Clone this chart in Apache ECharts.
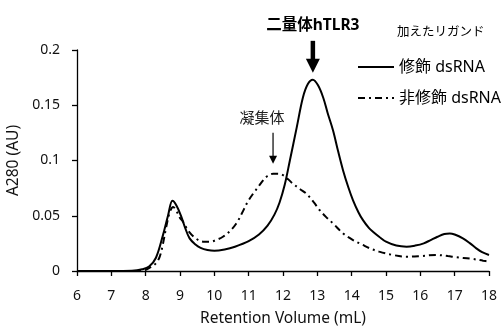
<!DOCTYPE html>
<html><head><meta charset="utf-8">
<script src="https://cdn.jsdelivr.net/npm/echarts@6/dist/echarts.min.js"></script>
<style>html,body{margin:0;padding:0;background:#fff}#c{width:501px;height:327px}</style>
</head><body><div id="c"></div>
<script>
const xTicks = [6,7,8,9,10,11,12,13,14,15,16,17,18];
const yTicks = [0,0.05,0.1,0.15,0.2];
const seriesNames = ['修飾 dsRNA','非修飾 dsRNA'];
const modX = [6,7,7.6,7.9,8.1,8.3,8.5,8.65,8.78,8.9,9.04,9.15,9.28,9.45,9.6,9.8,10.0,10.3,10.6,11.0,11.3,11.55,11.75,11.9,12.05,12.2,12.4,12.58,12.72,12.87,13.02,13.17,13.3,13.46,13.6,13.75,13.9,14.04,14.2,14.33,14.5,14.62,14.8,15.0,15.3,15.6,15.85,16.1,16.3,16.5,16.7,16.86,17.0,17.24,17.45,17.63,17.8,18.0];
const modY = [0,0,0.0002,0.0015,0.004,0.012,0.032,0.05,0.0635,0.059,0.049,0.039,0.0295,0.024,0.021,0.019,0.0183,0.0195,0.022,0.027,0.033,0.041,0.051,0.062,0.078,0.100,0.130,0.157,0.169,0.173,0.168,0.157,0.143,0.127,0.109,0.091,0.076,0.064,0.053,0.046,0.039,0.0355,0.031,0.0265,0.023,0.022,0.023,0.025,0.028,0.031,0.0335,0.034,0.033,0.0295,0.025,0.0205,0.017,0.0145];
const unmodX = [6,7,7.9,8.12,8.3,8.41,8.5,8.6,8.7,8.8,8.9,9.0,9.09,9.25,9.48,9.7,9.87,10.05,10.25,10.45,10.64,10.8,10.98,11.13,11.3,11.42,11.55,11.71,11.85,12.0,12.15,12.29,12.5,12.68,12.9,13.07,13.25,13.46,13.75,14.04,14.3,14.53,14.8,15.2,15.6,16.0,16.47,16.8,17.05,17.5,17.83,18.0];
const unmodY = [0,0,0,0.003,0.007,0.013,0.024,0.04,0.053,0.058,0.054,0.048,0.0445,0.036,0.029,0.0265,0.0265,0.028,0.031,0.036,0.043,0.052,0.063,0.07,0.077,0.082,0.086,0.088,0.088,0.0867,0.083,0.079,0.074,0.070,0.062,0.055,0.049,0.043,0.034,0.028,0.024,0.0205,0.0175,0.0145,0.013,0.0135,0.0145,0.0135,0.0124,0.011,0.0093,0.0085];
const dimerLabel = '二量体hTLR3';
const aggLabel = '凝集体';
const legendTitle = '加えたリガンド';
const dimerPeak = [12.87, 0.173];
const aggPeak = [11.71, 0.088];

const FONT = '"Noto Sans", "Noto Sans CJK JP", sans-serif';
const chart = echarts.init(document.getElementById('c'), null, {renderer:'canvas'});
const zip = (a,b)=>a.map((v,i)=>[v,b[i]]);
const axisCommon = {
  axisLine:{show:true,lineStyle:{color:'#000',width:1.3}},
  axisTick:{show:true,inside:false,length:5,lineStyle:{color:'#000',width:1.3}},
  splitLine:{show:false},
  axisLabel:{color:'#111',fontSize:14,fontFamily:FONT},
  nameTextStyle:{color:'#111',fontSize:15.5,fontFamily:FONT}
};
chart.setOption({
  animation:false,
  backgroundColor:'#fff',
  grid:{left:77,right:12,top:50,bottom:56,containLabel:false,outerBoundsMode:'none'},
  xAxis:Object.assign({type:'value',min:xTicks[0],max:xTicks[xTicks.length-1],interval:1,
    name:'Retention Volume (mL)',nameLocation:'middle',nameGap:40},axisCommon,
    {axisLabel:Object.assign({},axisCommon.axisLabel,{margin:18})}),
  yAxis:Object.assign({type:'value',min:yTicks[0],max:yTicks[yTicks.length-1],interval:0.05,
    name:'A280 (AU)',nameLocation:'middle',nameGap:44},axisCommon,
    {axisLabel:Object.assign({},axisCommon.axisLabel,{margin:17,formatter:v=>String(+v.toFixed(2))})}),
  legend:{show:true,orient:'vertical',left:357,top:59,padding:0,itemWidth:36,itemHeight:18,itemGap:15,
    itemStyle:{opacity:0},
    textStyle:{color:'#000',fontSize:16,fontFamily:FONT},data:seriesNames},
  series:[
    {name:seriesNames[0],type:'line',data:zip(modX,modY),smooth:0.35,symbol:'none',
     lineStyle:{color:'#000',width:2,type:'solid'},itemStyle:{color:'#000'},z:3},
    {name:seriesNames[1],type:'line',data:zip(unmodX,unmodY),smooth:0.35,symbol:'none',
     lineStyle:{color:'#000',width:2,type:[7,4,2,4]},itemStyle:{color:'#000'},z:2}
  ]
});
function px(p){return chart.convertToPixel({gridIndex:0},p);}
const d = px(dimerPeak), a = px(aggPeak);
const dx = d[0], dTip = d[1]-7;
const ax = a[0], aTip = a[1]-10;
chart.setOption({graphic:[
  {type:'text',left:397,top:26,style:{text:legendTitle,fill:'#000',fontSize:12.5,fontFamily:FONT}},
  {type:'text',x:dx,y:dTip-47,style:{text:dimerLabel,fill:'#000',fontSize:15.5,fontWeight:'bold',fontFamily:FONT,align:'center',verticalAlign:'middle'}},
  {type:'line',shape:{x1:dx,y1:dTip-32,x2:dx,y2:dTip-12},style:{stroke:'#000',lineWidth:4.5}},
  {type:'polygon',shape:{points:[[dx-7,dTip-14],[dx+7,dTip-14],[dx,dTip]]},style:{fill:'#000'}},
  {type:'text',x:ax-11,y:aTip-45,style:{text:aggLabel,fill:'#222',fontSize:15,fontFamily:FONT,align:'center',verticalAlign:'middle'}},
  {type:'line',shape:{x1:ax,y1:aTip-31,x2:ax,y2:aTip-6},style:{stroke:'#000',lineWidth:1.2}},
  {type:'polygon',shape:{points:[[ax-4,aTip-8],[ax+4,aTip-8],[ax,aTip]]},style:{fill:'#000'}}
]});
</script></body></html>
